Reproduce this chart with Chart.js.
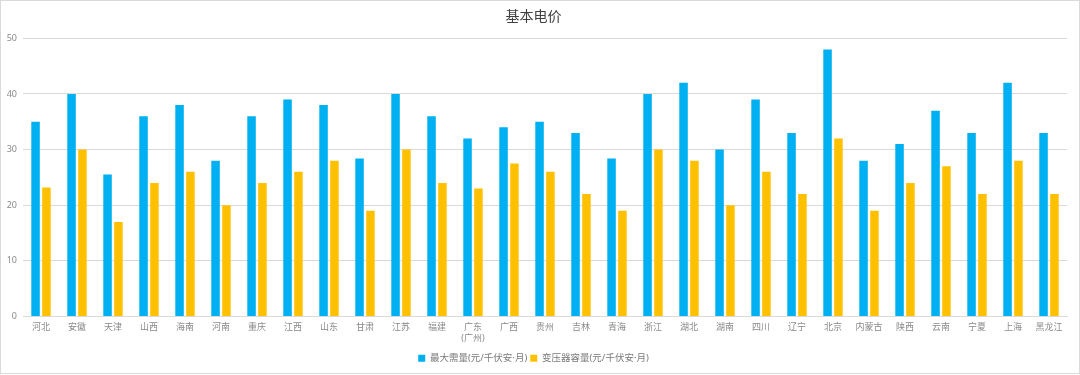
<!DOCTYPE html>
<html>
<head>
<meta charset="utf-8">
<script src="https://cdn.jsdelivr.net/npm/chart.js@4/dist/chart.umd.min.js"></script>
<style>
    html, body { margin: 0; padding: 0; background: #fff; }
    #wrap { position: relative; width: 1080px; height: 375px; }
    #frame { position: absolute; left: 0; top: 0; width: 1080px; height: 374px; box-sizing: border-box; border: 1px solid #d9d9d9; pointer-events: none; }
</style>
</head>
<body>
<div id="wrap">
    <canvas id="bar-chart-grouped" width="1080" height="375"></canvas>
    <div id="frame"></div>
</div>
<script>
// provinces on the x axis (广东 is split over two lines)
const provinces = ["河北", "安徽", "天津", "山西", "海南", "河南", "重庆", "江西", "山东", "甘肃",
    "江苏", "福建", ["广东", "(广州)"], "广西", "贵州", "吉林", "青海", "浙江", "湖北", "湖南",
    "四川", "辽宁", "北京", "内蒙古", "陕西", "云南", "宁夏", "上海", "黑龙江"];

// 最大需量 (元/千伏安·月)
const maxDemand = [35, 40, 25.5, 36, 38, 28, 36, 39, 38, 28.4,
    40, 36, 32, 34, 35, 33, 28.4, 40, 42, 30,
    39, 33, 48, 28, 31, 37, 33, 42, 33];

// 变压器容量 (元/千伏安·月)
const transformerCap = [23.2, 30, 17, 24, 26, 20, 24, 26, 28, 19,
    30, 24, 23, 27.5, 26, 22, 19, 30, 28, 20,
    26, 22, 32, 19, 24, 27, 22, 28, 22];

const seriesNames = ["最大需量(元/千伏安·月)", "变压器容量(元/千伏安·月)"];
const yTicks = [0, 10, 20, 30, 40, 50];

// latin glyphs (digits, brackets, middle dot) from Noto Sans, CJK from the fallback
const fontFamily = '"Noto Sans", "Noto Sans CJK SC", sans-serif';

new Chart(document.getElementById("bar-chart-grouped"), {
    type: 'bar',
    data: {
        labels: provinces,
        datasets: [
            {
                label: seriesNames[0],
                backgroundColor: "#00B0F0",
                data: maxDemand
            }, {
                label: seriesNames[1],
                backgroundColor: "#FFC000",
                data: transformerCap
            }
        ]
    },
    options: {
        responsive: false,
        animation: false,
        categoryPercentage: 0.606,
        barPercentage: 0.78,
        layout: { padding: { left: 0, right: 13, top: 0, bottom: 2 } },
        plugins: {
            title: {
                display: true,
                text: '基本电价',
                color: '#404040',
                font: { family: fontFamily, size: 14, weight: 'normal' },
                padding: { top: 8.3, bottom: 13.2 }
            },
            legend: {
                position: 'bottom',
                labels: {
                    boxWidth: 7,
                    boxHeight: 7,
                    padding: 3,
                    color: '#7a7a7a',
                    font: { family: fontFamily, size: 9.5 }
                }
            },
            tooltip: { enabled: false }
        },
        scales: {
            x: {
                grid: { display: false, drawTicks: false },
                border: { display: true, color: '#d9d9d9' },
                ticks: {
                    color: '#8a8a8a',
                    padding: 6,
                    maxRotation: 0,
                    autoSkip: false,
                    font: { family: fontFamily, size: 9 }
                },
                afterFit: function (scale) { scale.height = 34; }
            },
            y: {
                min: yTicks[0],
                max: yTicks[yTicks.length - 1],
                grid: { color: '#d9d9d9', drawTicks: false },
                border: { display: false },
                ticks: {
                    stepSize: 10,
                    padding: 6,
                    color: '#8a8a8a',
                    font: { family: fontFamily, size: 9 }
                },
                afterFit: function (scale) { scale.width = 23; }
            }
        }
    }
});
</script>
</body>
</html>
